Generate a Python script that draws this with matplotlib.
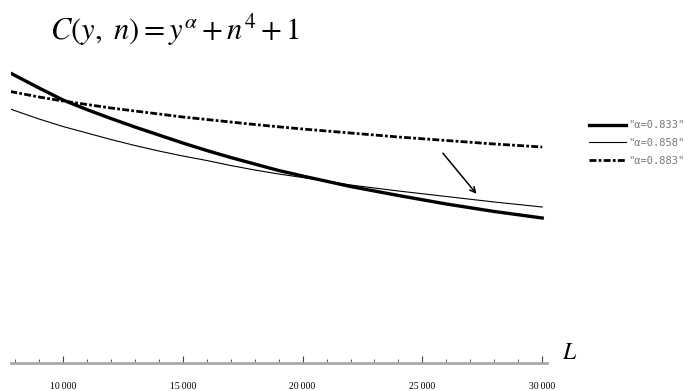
import numpy as np
import matplotlib
matplotlib.use("Agg")
from matplotlib import pyplot as plt
from matplotlib.ticker import MultipleLocator

plt.rcParams['mathtext.fontset'] = 'stix'

# values (y has no scale in the original)
L = [7800, 9000, 10000, 11000, 12000, 13000, 14000, 15000, 16000, 17000,
     18000, 19000, 20000, 22000, 24000, 26000, 28000, 30000]
c833 = [2.90, 2.75, 2.63, 2.534, 2.445, 2.36, 2.28, 2.20, 2.125, 2.055,
        1.99, 1.925, 1.87, 1.765, 1.675, 1.59, 1.515, 1.45]
c858 = [2.54, 2.44, 2.365, 2.30, 2.235, 2.175, 2.12, 2.07, 2.025, 1.975,
        1.93, 1.89, 1.855, 1.78, 1.72, 1.665, 1.61, 1.56]
c883 = [2.715, 2.66, 2.62, 2.585, 2.55, 2.52, 2.49, 2.46, 2.435, 2.41,
        2.385, 2.362, 2.34, 2.30, 2.26, 2.225, 2.19, 2.16]
labels = ['"\u03b1=0.833"', '"\u03b1=0.858"', '"\u03b1=0.883"']

fig = plt.figure(figsize=(6.9, 3.91), dpi=100)
ax = fig.add_axes([11/690, 28/391, 536/690, 303/391])

ax.plot(L, c833, color='black', lw=2.4, label=labels[0])
ax.plot(L, c858, color='black', lw=0.8, label=labels[1])
ax.plot(L, c883, color='black', lw=2.0, ls=(0, (2.5, 0.8, 1, 0.8)), label=labels[2])

ax.annotate('', xy=(27330, 1.67), xytext=(25780, 2.12),
            arrowprops=dict(arrowstyle='->', color='black', lw=1.1))

ax.set_xlim(7830, 30200)
ax.set_ylim(0, 3.03)
for s in ['top', 'right', 'left']:
    ax.spines[s].set_visible(False)
ax.spines['bottom'].set_color('#aaaaaa')
ax.spines['bottom'].set_linewidth(2)
ax.set_yticks([])
ax.xaxis.set_major_locator(MultipleLocator(5000))
ax.xaxis.set_minor_locator(MultipleLocator(1000))
ax.tick_params(axis='x', which='major', length=5, width=0.8, color='#444444',
               direction='in', pad=14)
ax.tick_params(axis='x', which='minor', length=3, width=0.6, color='#444444',
               direction='in')
ticks = [10000, 15000, 20000, 25000, 30000]
ax.set_xticks(ticks)
ax.set_xticklabels([f"{t // 1000}\u2009000" for t in ticks],
                   fontsize=7, family='Liberation Serif')

fig.text(570/690, 1 - 352/391, '$L$', fontsize=17, ha='center', va='center')
fig.text(50/690, 1 - 30/391, r'$C(y,\ n) = y^{\alpha} + n^4 + 1$',
         fontsize=22, ha='left', va='center')

leg = ax.legend(loc='center left', bbox_to_anchor=(580/690, 1 - 143/391),
                bbox_transform=fig.transFigure, frameon=False,
                prop={'family': 'DejaVu Sans Mono', 'size': 7.5},
                labelcolor='#777777', handlelength=3.5, handletextpad=0.2,
                labelspacing=0.75)

fig.savefig('out.png', dpi=100)
